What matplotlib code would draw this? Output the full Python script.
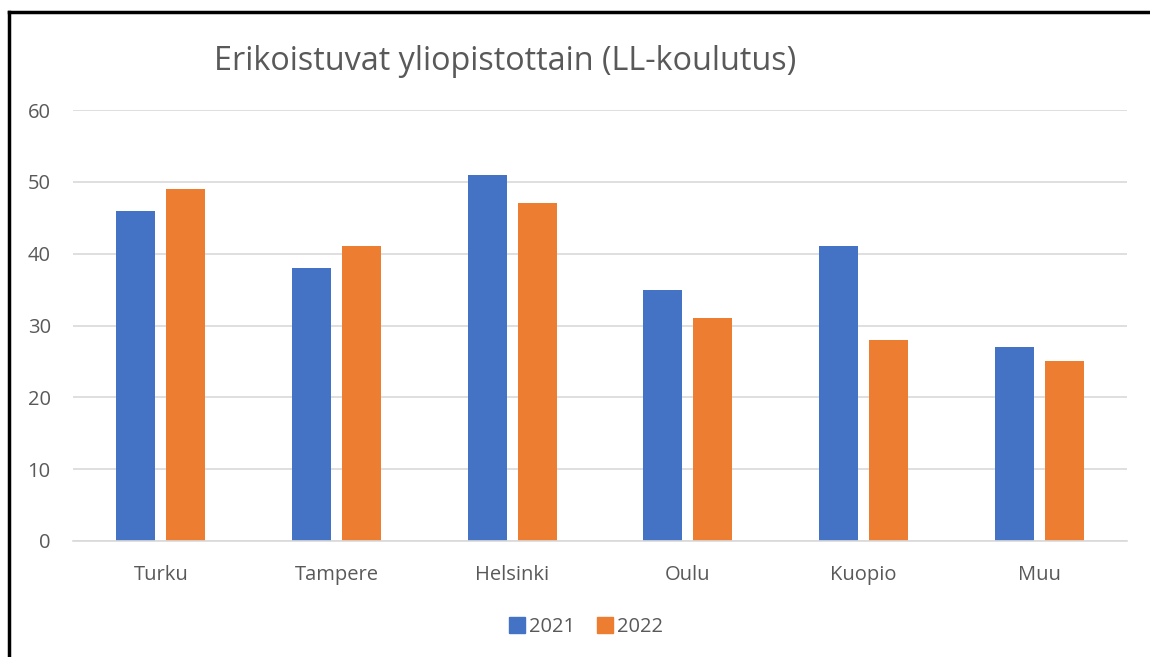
import numpy as np
import matplotlib.pyplot as plt
from matplotlib.lines import Line2D

categories = ["Turku", "Tampere", "Helsinki", "Oulu", "Kuopio", "Muu"]
values_2021 = [46, 38, 51, 35, 41, 27]
values_2022 = [49, 41, 47, 31, 28, 25]
series_names = ["2021", "2022"]

plt.rcParams["font.family"] = ["Open Sans", "DejaVu Sans"]
text_color = "#595959"
blue = "#4472c4"
orange = "#ed7d31"

fig = plt.figure(figsize=(11.5, 6.57), dpi=100)
ax = fig.add_axes([73 / 1150, 1 - 541 / 657, 1054 / 1150, 431 / 657])

x = np.arange(len(categories))
w = 0.222
off = 0.142
ax.bar(x - off, values_2021, w, color=blue, label=series_names[0], zorder=3)
ax.bar(x + off, values_2022, w, color=orange, label=series_names[1], zorder=3)

ax.set_xlim(-0.5, len(categories) - 0.5)
ax.set_ylim(0, 60)
ax.set_yticks(range(0, 61, 10))
ax.yaxis.grid(True, color="#d9d9d9", linewidth=1.2, zorder=0)
ax.set_xticks(x)
ax.set_xticklabels(categories)
ax.tick_params(axis="both", length=0, labelsize=14.5, colors=text_color)
ax.tick_params(axis="y", pad=16)
ax.tick_params(axis="x", pad=17)
for s in ["top", "right", "left"]:
    ax.spines[s].set_visible(False)
ax.spines["bottom"].set_color("#d9d9d9")
ax.spines["bottom"].set_linewidth(1.2)
ax.spines["bottom"].set_zorder(4)

fig.text(505 / 1150, 1 - 62 / 657, "Erikoistuvat yliopistottain (LL-koulutus)",
         ha="center", va="center", fontsize=23.3, color=text_color)

handles = [Line2D([], [], marker="s", linestyle="none", markersize=12, color=c)
           for c in (blue, orange)]
fig.legend(handles, series_names, loc="center", bbox_to_anchor=(585 / 1150, 1 - 627 / 657),
           ncol=2, frameon=False, fontsize=14.5, labelcolor=text_color,
           handletextpad=0.1, columnspacing=1.0, handlelength=1.0)

# black frame lines on left and top edges
fig.add_artist(Line2D([9 / 1150, 9 / 1150], [0, 1 - 12 / 657], color="black", linewidth=2.5,
                      transform=fig.transFigure))
fig.add_artist(Line2D([9 / 1150, 1], [1 - 12 / 657, 1 - 12 / 657], color="black", linewidth=2.5,
                      transform=fig.transFigure))

fig.savefig("out.png", dpi=100)
